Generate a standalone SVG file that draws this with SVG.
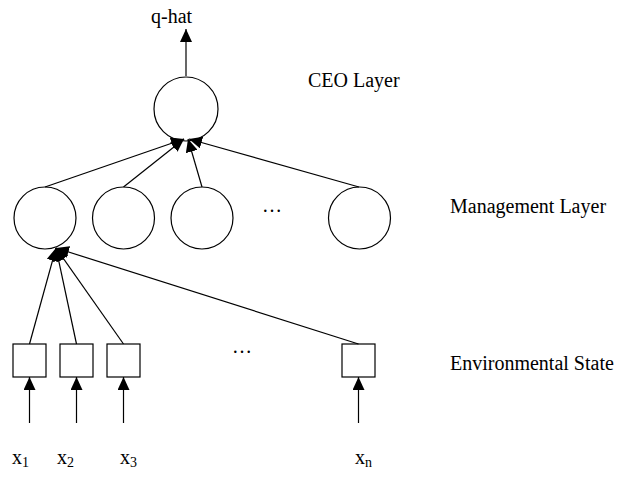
<svg xmlns="http://www.w3.org/2000/svg" width="622" height="479" viewBox="0 0 622 479">
<style>
.n{fill:#fff;stroke:#000;stroke-width:1.2}
.c line{stroke:#000;stroke-width:1.2}
text{font-family:"Liberation Serif","Times New Roman",serif;font-size:20px;fill:#000}
.sub{font-size:14px}
</style>
<defs>
<marker id="ah" markerUnits="userSpaceOnUse" markerWidth="13" markerHeight="12" refX="13" refY="6" orient="auto">
<path d="M0,0 L13,6 L0,12 z" fill="#000"/>
</marker>
</defs>
<rect width="622" height="479" fill="#fff"/>
<g id="ceo"><circle class="n" cx="186" cy="109" r="32"/></g>
<g id="m1"><circle class="n" cx="45" cy="218" r="31"/></g>
<g id="m2"><circle class="n" cx="123.5" cy="218" r="31"/></g>
<g id="m3"><circle class="n" cx="202" cy="218" r="31"/></g>
<g id="m4"><circle class="n" cx="359.5" cy="218" r="31"/></g>
<g id="b1"><rect class="n" x="13" y="344" width="33" height="33"/></g>
<g id="b2"><rect class="n" x="60" y="344" width="33" height="33"/></g>
<g id="b3"><rect class="n" x="107" y="344" width="33" height="33"/></g>
<g id="bn"><rect class="n" x="342" y="344" width="33" height="33"/></g>
<g class="c" id="connectors">
<line x1="186" y1="76" x2="186" y2="29" marker-end="url(#ah)"/>
<line x1="45" y1="187" x2="184" y2="139" marker-end="url(#ah)"/>
<line x1="123.5" y1="187" x2="184" y2="139" marker-end="url(#ah)"/>
<line x1="202" y1="187" x2="188" y2="139" marker-end="url(#ah)"/>
<line x1="359" y1="187" x2="189" y2="139" marker-end="url(#ah)"/>
<line x1="29.5" y1="344" x2="56" y2="248" marker-end="url(#ah)"/>
<line x1="76.5" y1="344" x2="56" y2="248" marker-end="url(#ah)"/>
<line x1="123.5" y1="344" x2="56" y2="248" marker-end="url(#ah)"/>
<line x1="358.5" y1="344" x2="56" y2="248" marker-end="url(#ah)"/>
<line x1="29.5" y1="423" x2="29.5" y2="377" marker-end="url(#ah)"/>
<line x1="76.5" y1="423" x2="76.5" y2="377" marker-end="url(#ah)"/>
<line x1="123.5" y1="423" x2="123.5" y2="377" marker-end="url(#ah)"/>
<line x1="358.5" y1="423" x2="358.5" y2="377" marker-end="url(#ah)"/>
</g>
<g id="labels">
<text x="151" y="23">q-hat</text>
<text x="308" y="87">CEO Layer</text>
<text x="450" y="213">Management Layer</text>
<text x="450" y="370">Environmental State</text>
<text x="262" y="212">…</text>
<text x="232" y="353">…</text>
<text x="12" y="464">x<tspan class="sub" dy="3">1</tspan></text>
<text x="57" y="464">x<tspan class="sub" dy="3">2</tspan></text>
<text x="120" y="464">x<tspan class="sub" dy="3">3</tspan></text>
<text x="355" y="464">x<tspan class="sub" dy="3">n</tspan></text>
</g>
</svg>
